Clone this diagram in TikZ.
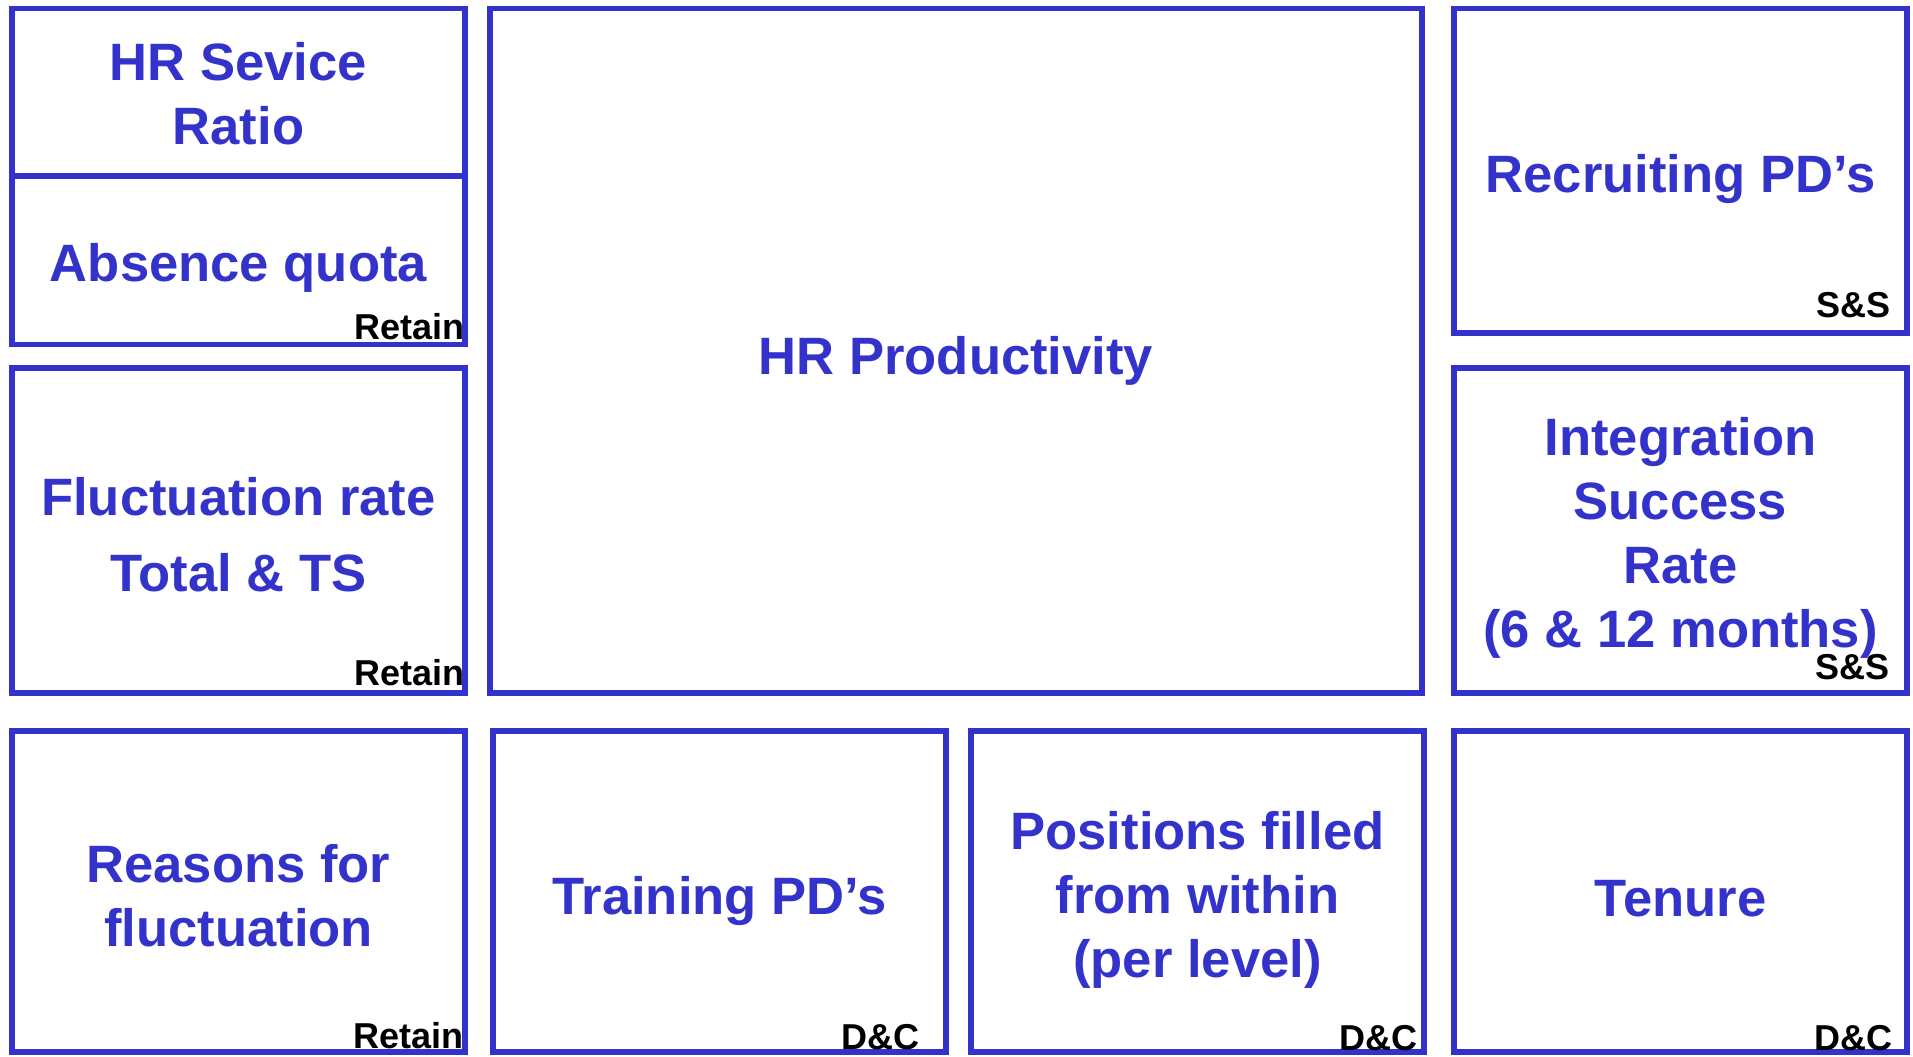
\documentclass[tikz,border=0pt]{standalone}
\usepackage{fontspec}
\setmainfont{Liberation Sans}
\definecolor{kpiblue}{RGB}{51,51,204}

\begin{document}
\begin{tikzpicture}[
    x=1pt, y=1pt,
    box/.style={rectangle, draw=kpiblue, line width=2.75pt,
        minimum width=226.5pt, inner sep=0pt},
    kpi/.style={align=center, inner sep=0pt, text=kpiblue,
        font=\bfseries\fontsize{26.3}{32}\selectfont},
    tag/.style={anchor=base east, inner sep=0pt, text=black,
        font=\bfseries\fontsize{18}{20}\selectfont}
]
    \useasboundingbox (0,0) rectangle (956.5,528);
    % left column
    \node[box, minimum height=83.75pt] (service) at (119.25,481.875) {};
    \node[box, minimum height=84.25pt] (absence) at (119.25,397.875) {};
    \node[box, minimum height=162.5pt] (fluct) at (119.25,262.75) {};
    \node[box, minimum height=160.5pt] (reasons) at (119.25,82.25) {};
    % middle
    \node[box, minimum width=466pt, minimum height=342.25pt] (prod) at (478,352.625) {};
    \node[box, minimum height=160.5pt] (training) at (359.75,82.25) {};
    \node[box, minimum height=160.5pt] (positions) at (598.75,82.25) {};
    % right column
    \node[box, minimum height=162.25pt] (recruit) at (840.25,442.625) {};
    \node[box, minimum height=162.5pt] (integr) at (840.25,262.75) {};
    \node[box, minimum height=160.5pt] (tenure) at (840.25,82.25) {};
    % indicator names
    \node[kpi] (service-text) at ([yshift=-0.9pt]service.center) {HR Sevice\\Ratio};
    \node[kpi] (absence-text) at ([yshift=-3.7pt]absence.center) {Absence quota};
    \node[kpi, font=\bfseries\fontsize{26.3}{38.3}\selectfont] (fluct-text) at ([yshift=-2.1pt]fluct.center) {Fluctuation rate\\Total \& TS};
    \node[kpi] (reasons-text) at ([yshift=-2.1pt]reasons.center) {Reasons for\\fluctuation};
    \node[kpi] (prod-text) at ([yshift=-4.9pt]prod.center) {HR Productivity};
    \node[kpi] (training-text) at ([yshift=-4.9pt]training.center) {Training PD’s};
    \node[kpi] (positions-text) at ([yshift=-4pt]positions.center) {Positions filled\\from within\\(per level)};
    \node[kpi] (recruit-text) at ([yshift=-4.3pt]recruit.center) {Recruiting PD’s};
    \node[kpi] (integr-text) at ([yshift=-3.7pt]integr.center) {Integration\\Success\\Rate\\(6 \& 12 months)};
    \node[kpi] (tenure-text) at ([yshift=-3.7pt]tenure.center) {Tenure};
    % owner tags
    \node[tag] (absence-tag) at ([xshift=-1.5pt, yshift=3.75pt]absence.south east) {Retain};
    \node[tag] (fluct-tag) at ([xshift=-1.5pt, yshift=5pt]fluct.south east) {Retain};
    \node[tag] (reasons-tag) at ([xshift=-2pt, yshift=3pt]reasons.south east) {Retain};
    \node[tag] (training-tag) at ([xshift=-14.5pt, yshift=2.5pt]training.south east) {D\&C};
    \node[tag] (positions-tag) at ([xshift=-4.5pt, yshift=2pt]positions.south east) {D\&C};
    \node[tag] (recruit-tag) at ([xshift=-9.5pt, yshift=9pt]recruit.south east) {S\&S};
    \node[tag] (integr-tag) at ([xshift=-10pt, yshift=8pt]integr.south east) {S\&S};
    \node[tag] (tenure-tag) at ([xshift=-8.5pt, yshift=2pt]tenure.south east) {D\&C};
\end{tikzpicture}
\end{document}
